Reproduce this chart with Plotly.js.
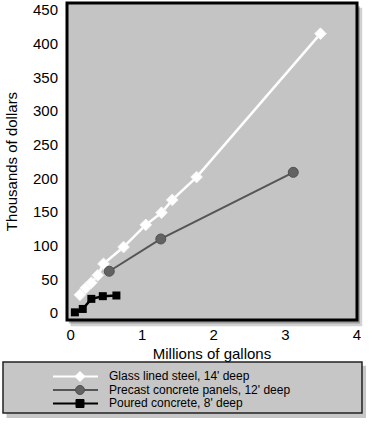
<!DOCTYPE html>
<html><head><meta charset="utf-8">
<script src="https://cdn.plot.ly/plotly-3.0.1.min.js"></script>
<style>html,body{margin:0;padding:0;background:#fff;}#chart{width:370px;height:430px;}</style>
</head><body><div id="chart"></div>
<script>
// Data (millions of gallons vs thousands of dollars)
const seriesNames = ["Glass lined steel, 14' deep", "Precast concrete panels, 12' deep", "Poured concrete, 8' deep"];
const glassX = [0.13, 0.21, 0.29, 0.38, 0.46, 0.74, 1.05, 1.27, 1.42, 1.76, 3.49];
const glassY = [27, 37, 45, 56, 73, 98, 131, 149, 168, 202, 415];
const precastX = [0.54, 1.26, 3.11];
const precastY = [62, 110, 209];
const pouredX = [0.06, 0.17, 0.29, 0.45, 0.64];
const pouredY = [1, 6, 21, 25, 26];
const xTicks = [0, 1, 2, 3, 4];
const yTicks = [0, 50, 100, 150, 200, 250, 300, 350, 400, 450];

const FONT = 'Liberation Sans, Arial, sans-serif';
const traces = [
  {x: glassX, y: glassY, name: seriesNames[0], mode: 'lines+markers', type: 'scatter',
   line: {color: '#ffffff', width: 2.5},
   marker: {symbol: 'diamond', size: 9, color: '#ffffff', line: {color: '#f4f4f4', width: 1}}},
  {x: precastX, y: precastY, name: seriesNames[1], mode: 'lines+markers', type: 'scatter',
   line: {color: '#555555', width: 2},
   marker: {symbol: 'circle', size: 10, color: '#626262', line: {color: '#505050', width: 1}}},
  {x: pouredX, y: pouredY, name: seriesNames[2], mode: 'lines+markers', type: 'scatter',
   line: {color: '#000000', width: 2.5},
   marker: {symbol: 'square', size: 8, color: '#000000'}}
];

// legend geometry (paper coords)
const legRows = [-0.1782, -0.2208, -0.2634];
const legLineX0 = -0.0483, legLineX1 = 0.1069, legMarkX = 0.0448, legTextX = 0.1379;
const legColors = ['#ffffff', '#555555', '#000000'];
const shapes = [
  // plot shadow
  {type: 'rect', xref: 'paper', yref: 'paper', x0: 0.012, x1: 1.018, y0: -0.02, y1: 0.985,
   fillcolor: 'rgba(0,0,0,0.18)', line: {width: 0}, layer: 'below'},
  {type: 'rect', xref: 'paper', yref: 'paper', x0: 0.006, x1: 1.010, y0: -0.011, y1: 0.99,
   fillcolor: 'rgba(0,0,0,0.25)', line: {width: 0}, layer: 'below'},
  // plot frame
  {type: 'rect', xref: 'paper', yref: 'paper', x0: 0, x1: 1, y0: 0, y1: 1,
   fillcolor: '#c4c4c4', line: {color: '#000000', width: 3}, layer: 'below'},
  // legend shadow
  {type: 'rect', xref: 'paper', yref: 'paper', x0: -0.2207 + 0.012, x1: 1.0172 + 0.014, y0: -0.2935 - 0.016, y1: -0.1325 - 0.012,
   fillcolor: 'rgba(0,0,0,0.22)', line: {width: 0}, layer: 'below'},
  // legend box
  {type: 'rect', xref: 'paper', yref: 'paper', x0: -0.2207, x1: 1.0172, y0: -0.2935, y1: -0.1325,
   fillcolor: '#c6c6c6', line: {color: '#222222', width: 1.5}, layer: 'below'}
];
const annotations = [];
legRows.forEach((ry, i) => {
  shapes.push({type: 'line', xref: 'paper', yref: 'paper', x0: legLineX0, x1: legLineX1, y0: ry, y1: ry,
    line: {color: legColors[i], width: 2}});
  const base = {xref: 'paper', yref: 'paper', xsizemode: 'pixel', ysizemode: 'pixel', xanchor: legMarkX, yanchor: ry};
  if (i === 0) shapes.push(Object.assign({type: 'path', path: 'M -5 0 L 0 5 L 5 0 L 0 -5 Z', fillcolor: '#ffffff', line: {color: '#ffffff', width: 1}}, base));
  if (i === 1) shapes.push(Object.assign({type: 'circle', x0: -4.5, x1: 4.5, y0: -4.5, y1: 4.5, fillcolor: '#626262', line: {color: '#505050', width: 1}}, base));
  if (i === 2) shapes.push(Object.assign({type: 'rect', x0: -4, x1: 4, y0: -4, y1: 4, fillcolor: '#000000', line: {color: '#000000', width: 1}}, base));
  annotations.push({xref: 'paper', yref: 'paper', x: legTextX, y: ry, xanchor: 'left', yanchor: 'middle',
    text: seriesNames[i], showarrow: false, font: {family: FONT, size: 12, color: '#000'}});
});

const layout = {
  width: 370, height: 430,
  margin: {l: 67, r: 13, t: 3, b: 110},
  paper_bgcolor: '#ffffff', plot_bgcolor: 'rgba(0,0,0,0)',
  showlegend: false,
  font: {family: FONT, size: 15, color: '#000'},
  xaxis: {range: [-0.05, 4.0], tickvals: xTicks, ticktext: xTicks.map(String), showgrid: false, zeroline: false,
    showline: false, ticks: '', ticklabelstandoff: 4, tickfont: {size: 15},
    title: {text: 'Millions of gallons', font: {size: 15}, standoff: 6}},
  yaxis: {range: [-10.4, 460.6], tickvals: yTicks, ticktext: yTicks.map(String), showgrid: false, zeroline: false,
    showline: false, ticks: '', ticklabelstandoff: 8, tickfont: {size: 15},
    title: {text: 'Thousands of dollars', font: {size: 15}, standoff: 11}},
  shapes: shapes,
  annotations: annotations
};
Plotly.newPlot('chart', traces, layout, {displayModeBar: false, staticPlot: true});
</script></body></html>
